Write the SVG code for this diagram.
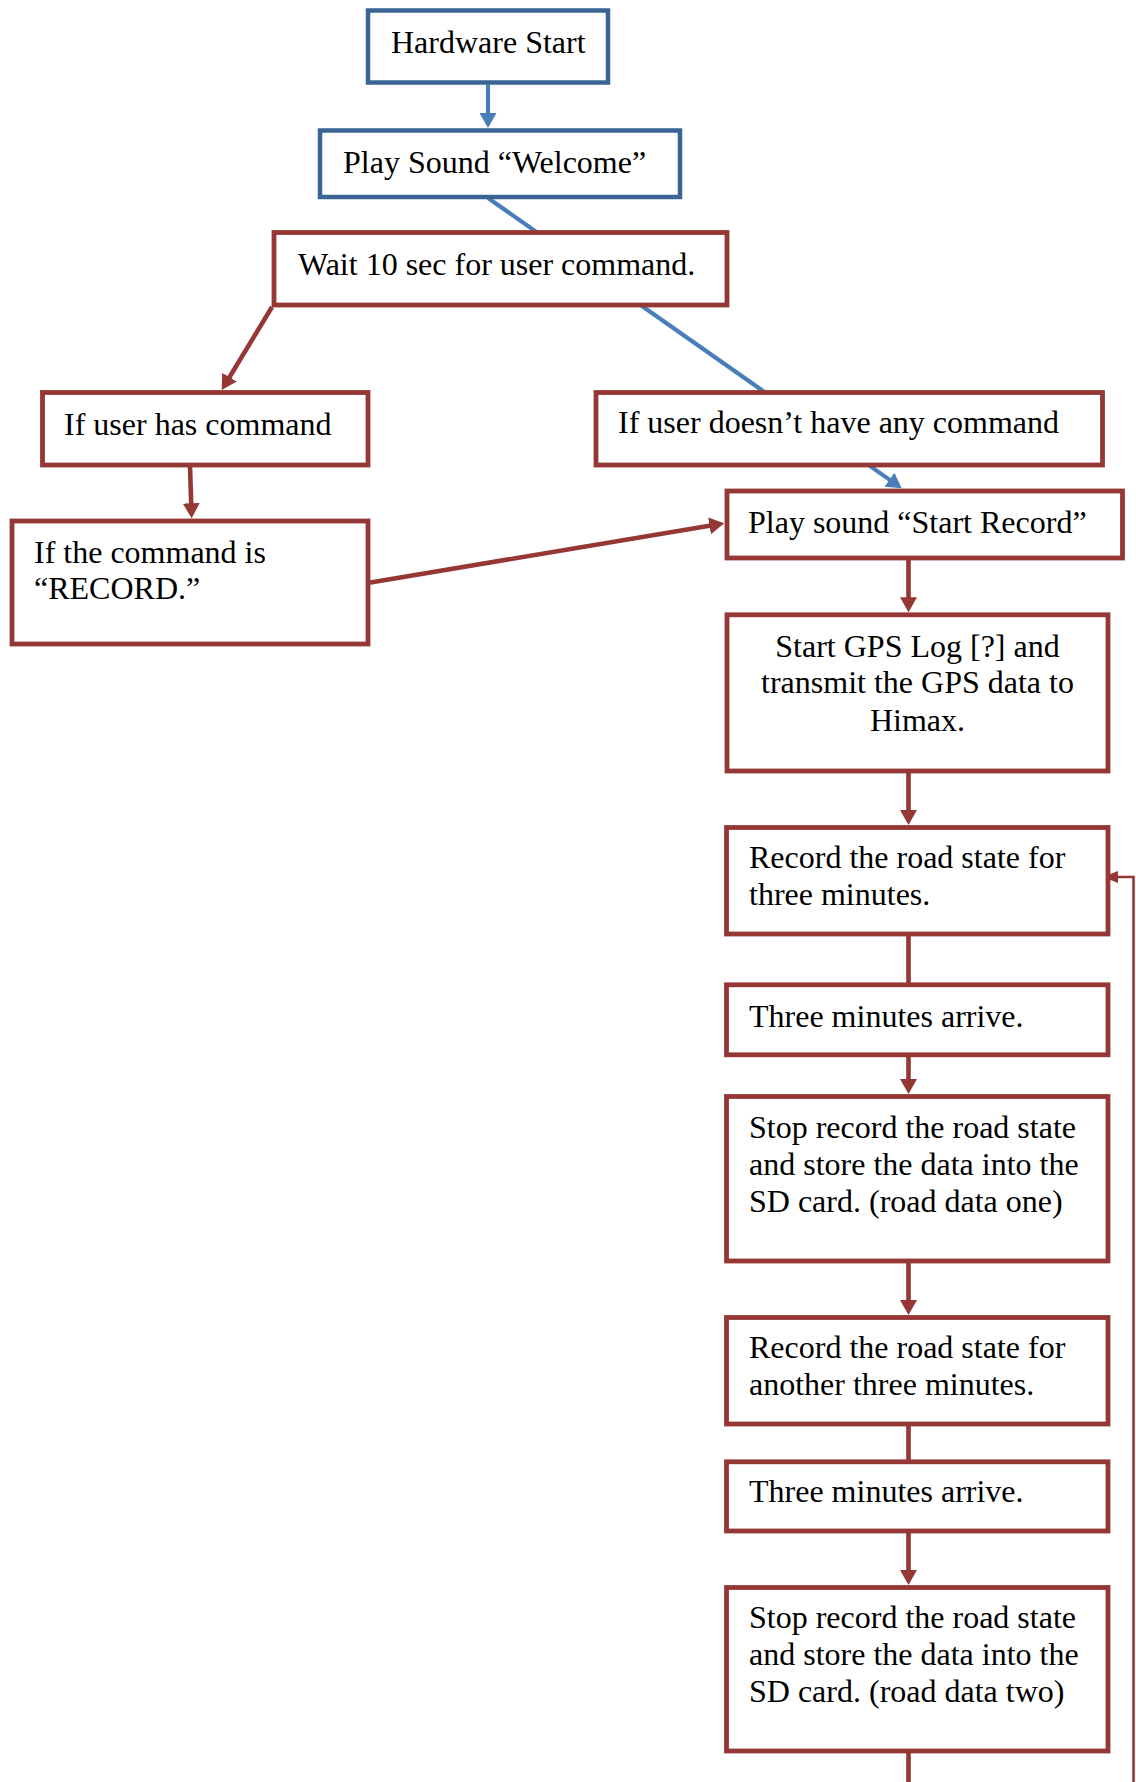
<svg xmlns="http://www.w3.org/2000/svg" width="1136" height="1782" viewBox="0 0 1136 1782">
<style>
  .bn { fill: #ffffff; stroke: #3A6494; stroke-width: 4.5; }
  .rn { fill: #ffffff; stroke: #953735; stroke-width: 4.8; }
  .t { font-family: "Liberation Serif", "Times New Roman", serif; font-size: 32px; fill: #000000; }
  .tc { text-anchor: middle; }
  .bc { stroke: #4A7EBB; stroke-width: 4.2; fill: none; }
  .rc { stroke: #953735; stroke-width: 4.6; fill: none; }
  .lc { stroke: #953735; stroke-width: 2.6; fill: none; }
</style>
<defs>
  <marker id="ab" markerUnits="userSpaceOnUse" markerWidth="15" markerHeight="17" refX="3" refY="8.5" orient="auto">
    <path d="M0,0 L15,8.5 L0,17 z" fill="#4A7EBB"/>
  </marker>
  <marker id="ar" markerUnits="userSpaceOnUse" markerWidth="15" markerHeight="17" refX="3" refY="8.5" orient="auto">
    <path d="M0,0 L15,8.5 L0,17 z" fill="#953735"/>
  </marker>
  <marker id="al" markerUnits="userSpaceOnUse" markerWidth="15" markerHeight="12" refX="5" refY="6" orient="auto">
    <path d="M0,0 L15,6 L0,12 z" fill="#953735"/>
  </marker>
</defs>
<rect x="0" y="0" width="1136" height="1782" fill="#ffffff"/>

<g id="connectors">
  <line class="bc" x1="488" y1="83" x2="488" y2="116" marker-end="url(#ab)"/>
  <line class="bc" x1="488" y1="198" x2="891.9" y2="481.4" marker-end="url(#ab)"/>
  <line class="rc" x1="272" y1="307" x2="227.9" y2="379.7" marker-end="url(#ar)"/>
  <line class="rc" x1="190" y1="466" x2="191.3" y2="506.3" marker-end="url(#ar)"/>
  <line class="rc" x1="369" y1="582.7" x2="712.5" y2="525.3" marker-end="url(#ar)"/>
  <line class="rc" x1="908.5" y1="559" x2="908.5" y2="600.3" marker-end="url(#ar)"/>
  <line class="rc" x1="908.5" y1="772" x2="908.5" y2="813" marker-end="url(#ar)"/>
  <line class="rc" x1="908.5" y1="935" x2="908.5" y2="983"/>
  <line class="rc" x1="908.5" y1="1056" x2="908.5" y2="1082" marker-end="url(#ar)"/>
  <line class="rc" x1="908.5" y1="1262" x2="908.5" y2="1303" marker-end="url(#ar)"/>
  <line class="rc" x1="908.5" y1="1425" x2="908.5" y2="1460"/>
  <line class="rc" x1="908.5" y1="1532" x2="908.5" y2="1573" marker-end="url(#ar)"/>
  <line class="rc" x1="908.5" y1="1752" x2="908.5" y2="1782"/>
  <polyline class="lc" points="1133.5,1782 1133.5,877 1113,877" marker-end="url(#al)"/>
</g>

<g id="n-hardware-start">
  <rect class="bn" x="368" y="10.5" width="240" height="72"/>
  <text class="t" x="391" y="53">Hardware Start</text>
</g>
<g id="n-play-welcome">
  <rect class="bn" x="320" y="130.5" width="360" height="66.5"/>
  <text class="t" x="343" y="172.7">Play Sound “Welcome”</text>
</g>
<g id="n-wait">
  <rect class="rn" x="274" y="232.5" width="453" height="72.5"/>
  <text class="t" x="298" y="275">Wait 10 sec for user command.</text>
</g>
<g id="n-has-command">
  <rect class="rn" x="42.5" y="392.5" width="325.5" height="72.5"/>
  <text class="t" x="64" y="435">If user has command</text>
</g>
<g id="n-no-command">
  <rect class="rn" x="596" y="392.5" width="506.5" height="72.5"/>
  <text class="t" x="618" y="433.3">If user doesn’t have any command</text>
</g>
<g id="n-record-command">
  <rect class="rn" x="12" y="521" width="356" height="123"/>
  <text class="t" x="34" y="562.7">If the command is</text>
  <text class="t" x="34" y="599.3">“RECORD.”</text>
</g>
<g id="n-start-record">
  <rect class="rn" x="727" y="491" width="395.5" height="67"/>
  <text class="t" x="748" y="532.7">Play sound “Start Record”</text>
</g>
<g id="n-gps">
  <rect class="rn" x="727" y="614.8" width="381" height="156.2"/>
  <text class="t tc" x="917.5" y="656.7">Start GPS Log [?] and</text>
  <text class="t tc" x="917.5" y="693.3">transmit the GPS data to</text>
  <text class="t tc" x="917.5" y="731">Himax.</text>
</g>
<g id="n-record-1">
  <rect class="rn" x="726.5" y="827.5" width="381.5" height="106.5"/>
  <text class="t" x="749" y="868.3">Record the road state for</text>
  <text class="t" x="749" y="905">three minutes.</text>
</g>
<g id="n-three-1">
  <rect class="rn" x="726.5" y="984.8" width="381.5" height="70"/>
  <text class="t" x="749" y="1026.7">Three minutes arrive.</text>
</g>
<g id="n-stop-1">
  <rect class="rn" x="726.5" y="1096.5" width="381.5" height="164.5"/>
  <text class="t" x="749" y="1138.3">Stop record the road state</text>
  <text class="t" x="749" y="1175">and store the data into the</text>
  <text class="t" x="749" y="1211.7">SD card. (road data one)</text>
</g>
<g id="n-record-2">
  <rect class="rn" x="726.5" y="1317.5" width="381.5" height="106.5"/>
  <text class="t" x="749" y="1358.3">Record the road state for</text>
  <text class="t" x="749" y="1395">another three minutes.</text>
</g>
<g id="n-three-2">
  <rect class="rn" x="726.5" y="1461.8" width="381.5" height="69.2"/>
  <text class="t" x="749" y="1501.7">Three minutes arrive.</text>
</g>
<g id="n-stop-2">
  <rect class="rn" x="726.5" y="1587.5" width="381.5" height="163.5"/>
  <text class="t" x="749" y="1628.3">Stop record the road state</text>
  <text class="t" x="749" y="1665">and store the data into the</text>
  <text class="t" x="749" y="1701.7">SD card. (road data two)</text>
</g>
</svg>
